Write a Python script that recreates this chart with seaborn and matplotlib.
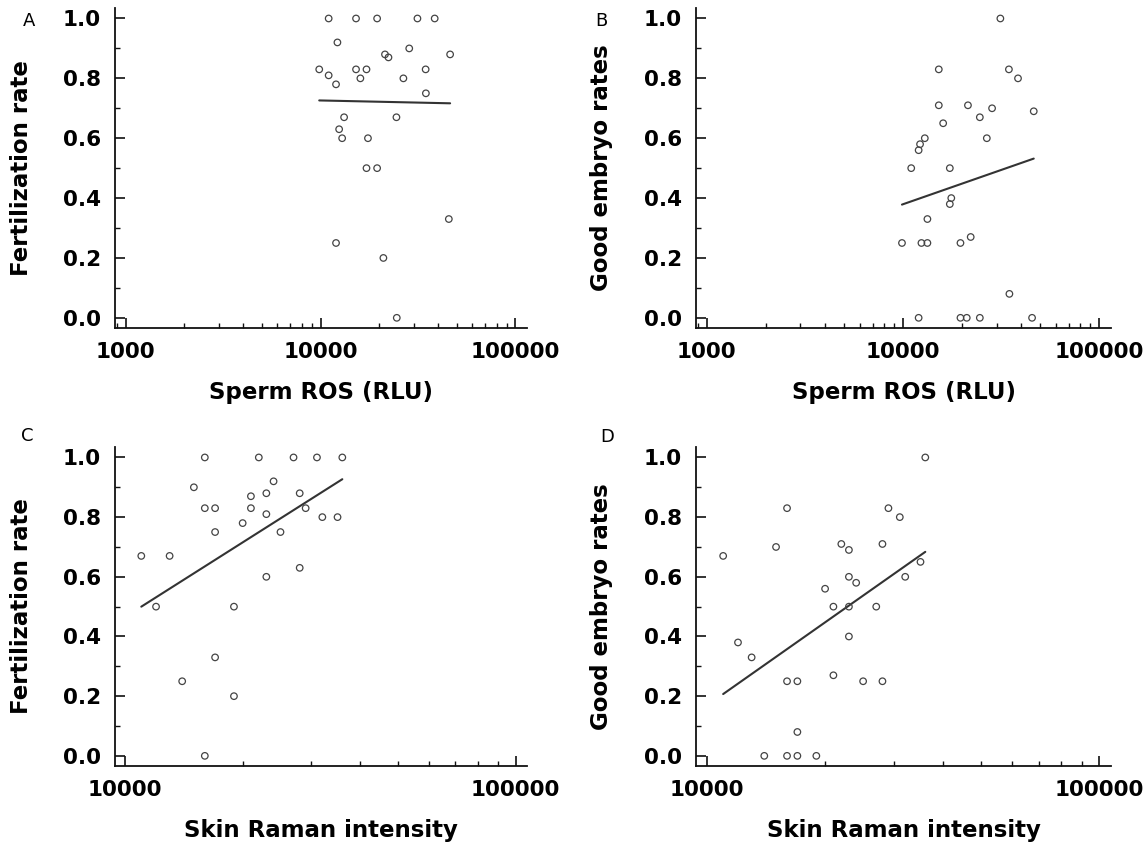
import numpy as np
import matplotlib
matplotlib.use("Agg")
import matplotlib.pyplot as plt
import seaborn as sns
from matplotlib.ticker import FixedLocator, LogLocator, MultipleLocator, FuncFormatter, NullFormatter

# Panel A: sperm ROS vs fertilization rate
ros_a = [11000, 15200, 19500, 31400, 38500, 12200, 28500, 21400, 22300, 46200,
         9840, 15200, 17200, 34600, 11000, 16000, 26600, 12000, 34700, 13200,
         24500, 12450, 12900, 17500, 17200, 19500, 45500, 12000, 21000, 24600]
fert_a = [1.0, 1.0, 1.0, 1.0, 1.0, 0.92, 0.90, 0.88, 0.87, 0.88,
          0.83, 0.83, 0.83, 0.83, 0.81, 0.80, 0.80, 0.78, 0.75, 0.67,
          0.67, 0.63, 0.60, 0.60, 0.50, 0.50, 0.33, 0.25, 0.20, 0.0]

# Panel B: sperm ROS vs good embryo rate
ros_b = [31300, 15200, 34600, 38500, 15200, 21400, 28400, 24600, 46300, 16000,
         12900, 26700, 12200, 12000, 11000, 17300, 17600, 17300, 13300, 9870,
         12400, 13300, 19600, 22100, 34800, 12000, 19600, 21100, 24600, 45400]
embryo_b = [1.0, 0.83, 0.83, 0.80, 0.71, 0.71, 0.70, 0.67, 0.69, 0.65,
            0.60, 0.60, 0.58, 0.56, 0.50, 0.50, 0.40, 0.38, 0.33, 0.25,
            0.25, 0.25, 0.25, 0.27, 0.08, 0.0, 0.0, 0.0, 0.0, 0.0]

# Panel C: skin Raman intensity vs fertilization rate
raman_c = [16000, 22000, 27000, 31000, 36000, 24000, 15000, 23000, 28000, 21000,
           16000, 17000, 21000, 29000, 23000, 32000, 35000, 20000, 17000, 25000,
           11000, 13000, 28000, 23000, 12000, 19000, 17000, 14000, 19000, 16000]
fert_c = [1.0, 1.0, 1.0, 1.0, 1.0, 0.92, 0.90, 0.88, 0.88, 0.87,
          0.83, 0.83, 0.83, 0.83, 0.81, 0.80, 0.80, 0.78, 0.75, 0.75,
          0.67, 0.67, 0.63, 0.60, 0.50, 0.50, 0.33, 0.25, 0.20, 0.0]

# Panel D: skin Raman intensity vs good embryo rate
raman_d = [36000, 16000, 29000, 31000, 22000, 28000, 15000, 23000, 11000, 35000,
           23000, 32000, 24000, 20000, 21000, 23000, 27000, 23000, 12000, 13000,
           21000, 16000, 17000, 25000, 28000, 17000, 14000, 16000, 17000, 19000]
embryo_d = [1.0, 0.83, 0.83, 0.80, 0.71, 0.71, 0.70, 0.69, 0.67, 0.65,
            0.60, 0.60, 0.58, 0.56, 0.50, 0.50, 0.50, 0.40, 0.38, 0.33,
            0.27, 0.25, 0.25, 0.25, 0.25, 0.08, 0.0, 0.0, 0.0, 0.0]

sns.set_style("ticks", {"xtick.direction": "in", "ytick.direction": "in",
                        "axes.edgecolor": "#111111", "text.color": "black",
                        "axes.labelcolor": "black", "xtick.color": "#111111",
                        "ytick.color": "#111111"})
plt.rcParams["font.family"] = ["DejaVu Sans"]
plt.rcParams["axes.linewidth"] = 1.3

W, H = 1147, 850
fig = plt.figure(figsize=(W / 100, H / 100), dpi=100)

def px_axes(left, top, right, bottom):
    return fig.add_axes([left / W, 1 - bottom / H, (right - left) / W, (bottom - top) / H])

panels = [
    ("A", ros_a, fert_a, "Sperm ROS (RLU)", "Fertilization rate", (115, 8, 527, 328), (881, 114600), [1000, 10000, 100000], (29, 21)),
    ("B", ros_b, embryo_b, "Sperm ROS (RLU)", "Good embryo rates", (696, 8, 1111, 328), (881, 114600), [1000, 10000, 100000], (601, 21)),
    ("C", raman_c, fert_c, "Skin Raman intensity", "Fertilization rate", (115, 447, 527, 766), (9420, 107000), [10000, 100000], (27, 436)),
    ("D", raman_d, embryo_d, "Skin Raman intensity", "Good embryo rates", (696, 447, 1111, 766), (9380, 107000), [10000, 100000], (607, 437)),
]

for letter, xs, ys, xlab, ylab, box, xlim, majors, lpos in panels:
    ax = px_axes(*box)
    sns.regplot(x=np.array(xs, dtype=float), y=np.array(ys), ax=ax, logx=True, ci=None,
                scatter_kws=dict(s=22, facecolor="none", edgecolor="#444444",
                                 linewidths=0.9, alpha=1, zorder=3),
                line_kws=dict(color="#333333", lw=1.5))
    ax.set_xscale("log")
    ax.set_xlim(*xlim)
    ax.set_ylim(-0.034, 1.035)
    sns.despine(ax=ax)
    ax.xaxis.set_major_locator(FixedLocator(majors))
    ax.xaxis.set_major_formatter(FuncFormatter(lambda v, p: f"{int(round(v))}"))
    ax.xaxis.set_minor_locator(LogLocator(base=10, subs=np.arange(2, 10)))
    ax.xaxis.set_minor_formatter(NullFormatter())
    ax.yaxis.set_major_locator(MultipleLocator(0.2))
    ax.yaxis.set_minor_locator(MultipleLocator(0.1))
    ax.yaxis.set_major_formatter(FuncFormatter(lambda v, p: f"{v:.1f}"))
    ax.tick_params(which="major", length=7.5, width=1.2, labelsize=15.5, pad=10,
                   labelcolor="black")
    ax.tick_params(which="minor", length=3.6, width=1.0)
    for lab in ax.get_xticklabels() + ax.get_yticklabels():
        lab.set_fontweight("bold")
    ax.set_xlabel(xlab, fontsize=16.5, fontweight="bold", labelpad=14)
    ax.set_ylabel(ylab, fontsize=16.5, fontweight="bold")
    ax.yaxis.set_label_coords(-0.20, 0.5)
    fig.text(lpos[0] / W, 1 - lpos[1] / H, letter, fontsize=13, ha="center", va="center")

fig.savefig("out.png", dpi=100)
